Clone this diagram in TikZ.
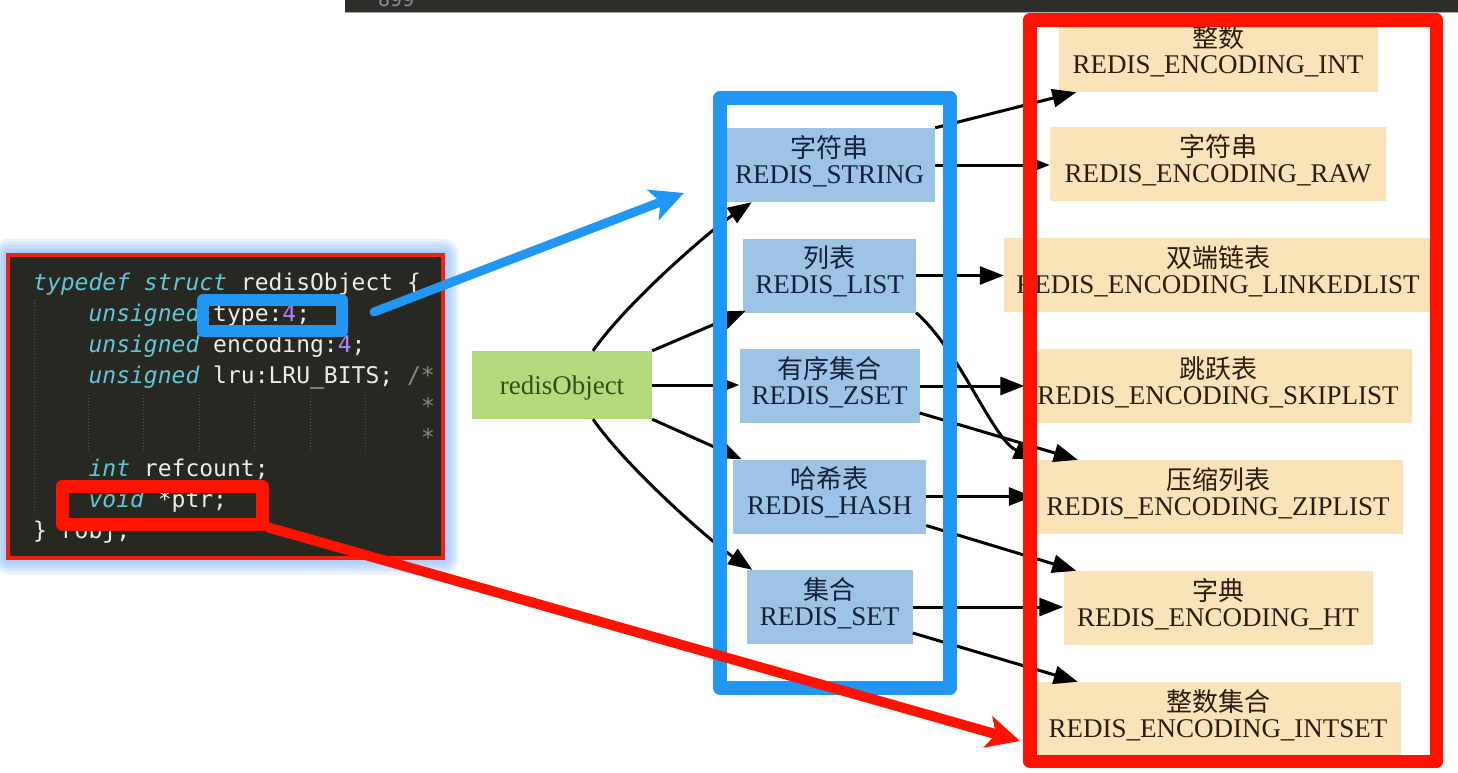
\documentclass[tikz,border=0pt]{standalone}
\usepackage{fontspec}
\setmainfont{Liberation Serif}
\newfontfamily\cjk{Noto Sans CJK SC}
\newfontfamily\codefont{DejaVu Sans Mono}
\usetikzlibrary{arrows.meta,calc}
\definecolor{codebg}{HTML}{272822}
\definecolor{kw}{HTML}{66C4D8}
\definecolor{plain}{HTML}{EDEDE6}
\definecolor{num}{HTML}{AE81FF}
\definecolor{cmt}{HTML}{8A877A}
\definecolor{guide}{HTML}{5A5A50}
\definecolor{hlblue}{HTML}{2196F3}
\definecolor{hlred}{HTML}{FF1200}
\definecolor{codered}{HTML}{E8260F}
\definecolor{glow}{HTML}{6FA8FF}
\definecolor{typebg}{HTML}{9DC3E6}
\definecolor{typefg}{HTML}{14213D}
\definecolor{encbg}{HTML}{FBE3B9}
\definecolor{encfg}{HTML}{2B1D0E}
\definecolor{objbg}{HTML}{B3DB7D}
\definecolor{objfg}{HTML}{2E5014}
\definecolor{barbg}{HTML}{2D2D29}
\newcommand\kwd[1]{{\itshape\color{kw}#1}}
\newcommand\numc[1]{{\color{num}#1}}
\newcommand\cmtc[1]{{\color{cmt}#1}}
\newcommand\mkbox[7]{%
  \node[#2box, minimum width=#5pt] (#1) at (#3,#4) {};
  \node[#2cjk] (#1c) at (#3,#4-8) {#6};
  \node[#2lat] (#1l) at (#3,#4+18) {#7};
}
\begin{document}
\begin{tikzpicture}[x=1pt,y=-1pt,
  typebox/.style={rectangle, fill=typebg, draw=none, inner sep=0pt, minimum height=74pt},
  typecjk/.style={inner sep=0pt, anchor=base, text=typefg, font=\cjk\fontsize{26pt}{26pt}\selectfont},
  typelat/.style={inner sep=0pt, anchor=base, text=typefg, font=\fontsize{27pt}{27pt}\selectfont},
  encbox/.style={rectangle, fill=encbg, draw=none, inner sep=0pt, minimum height=74pt},
  enccjk/.style={inner sep=0pt, anchor=base, text=encfg, font=\cjk\fontsize{26pt}{26pt}\selectfont},
  enclat/.style={inner sep=0pt, anchor=base, text=encfg, font=\fontsize{27pt}{27pt}\selectfont},
  objbox/.style={rectangle, fill=objbg, draw=none, inner sep=0pt, minimum height=68pt, minimum width=180pt},
  objlat/.style={inner sep=0pt, anchor=base, text=objfg, font=\fontsize{27pt}{27pt}\selectfont},
  edge/.style={line width=3pt, black, -{Triangle[length=24pt,width=18pt]}},
  codeline/.style={inner sep=0pt, anchor=base west, text=plain, font=\codefont\fontsize{23pt}{23pt}\selectfont},
  hlbox/.style={rectangle, inner sep=0pt, fill=none, line join=round},
  bigarrow/.style={line width=9pt, line cap=round, -{Stealth[length=33pt,width=32pt,inset=8pt]}}
]
\useasboundingbox (0,0) rectangle (1458,772);
\fill[white] (0,0) rectangle (1458,772);

% top bar of the editor
\fill[barbg] (345,0) rectangle (1458,12);
\draw[line width=0.8pt, color=black!35] (345,12.4) -- (1458,12.4);
\begin{scope}
  \clip (345,0) rectangle (1458,12);
  \node[inner sep=0pt, anchor=base west, text=black!45, font=\codefont\fontsize{20pt}{20pt}\selectfont] (lineno) at (378,6) {899};
\end{scope}

% graph nodes
\node[objbox] (obj) at (562,385) {};
\node[objlat] (objt) at (562,394) {redisObject};

\mkbox{str}{type}{829.5}{165}{211}{字符串}{REDIS\_STRING}
\mkbox{list}{type}{829.5}{275.5}{173}{列表}{REDIS\_LIST}
\mkbox{zset}{type}{829.5}{386}{180}{有序集合}{REDIS\_ZSET}
\mkbox{hash}{type}{829.5}{496.5}{193}{哈希表}{REDIS\_HASH}
\mkbox{set}{type}{829.5}{607}{166}{集合}{REDIS\_SET}

\mkbox{int}{enc}{1218}{55}{319}{整数}{REDIS\_ENCODING\_INT}
\mkbox{raw}{enc}{1218}{164}{336}{字符串}{REDIS\_ENCODING\_RAW}
\mkbox{linked}{enc}{1218}{275}{428}{双端链表}{REDIS\_ENCODING\_LINKEDLIST}
\mkbox{skip}{enc}{1218}{386}{387}{跳跃表}{REDIS\_ENCODING\_SKIPLIST}
\mkbox{zip}{enc}{1218}{497}{370}{压缩列表}{REDIS\_ENCODING\_ZIPLIST}
\mkbox{ht}{enc}{1218}{608}{309}{字典}{REDIS\_ENCODING\_HT}
\mkbox{intset}{enc}{1218}{719}{366}{整数集合}{REDIS\_ENCODING\_INTSET}

% edges from redisObject
\draw[edge] ($(obj.north)+(31,0)$) .. controls ($(obj.north)+(66,-50)$) and ($(str.south west)+(-12,27)$) .. ($(str.south west)+(28,0)$);
\draw[edge] (obj.north east) -- ($(list.south west)+(3,-2)$);
\draw[edge] (obj.east) -- (obj.east -| zset.west);
\draw[edge] (obj.south east) -- ($(hash.north west)+(9,0)$);
\draw[edge] ($(obj.south)+(31,0)$) .. controls ($(obj.south)+(66,50)$) and ($(set.north west)+(-34,-27)$) .. ($(set.north west)+(6,0)$);

% edges from types to encodings
\draw[edge] (str.north east) -- ($(int.south west)+(18,0)$);
\draw[edge] (str.east) -- (str.east -| raw.west);
\draw[edge] (list.east) -- (list.east -| linked.west);
\draw[edge] (list.south east) .. controls ($(list.south east)+(45,40)$) and ($(zip.north west)+(-40,-20)$) .. ($(zip.north west)+(5,0)$);
\draw[edge] (zset.east) -- (zset.east -| skip.west);
\draw[edge] ($(zset.east)+(0,27)$) -- ($(zip.north west)+(45,0)$);
\draw[edge] (hash.east) -- (hash.east -| zip.west);
\draw[edge] ($(hash.east)+(0,29)$) -- ($(ht.north west)+(13,0)$);
\draw[edge] (set.east) -- (set.east -| ht.west);
\draw[edge] ($(set.east)+(0,26)$) -- ($(intset.north west)+(43,0)$);

% annotation frames
\draw[hlblue, line width=14pt, line join=round] (720,98) rectangle (950,687.5);
\draw[hlred, line width=13.5pt, line join=round] (1030,20) rectangle (1436.5,761.5);

% code screenshot with glow
\foreach \d in {16,13,10,7,4}
  \fill[glow, opacity=0.15, rounded corners=\d pt] (8-\d,255-\d) rectangle (443+\d,558+\d);
\draw[codered, fill=codebg, line width=4pt] (8,255) rectangle (443,558);
\begin{scope}
  \clip (10,257) rectangle (441,556);
  \draw[guide, line width=1pt, dash pattern=on 1pt off 2pt] (34,300) -- (34,515);
  \foreach \c in {4,8,12,16,20,24}
    \draw[guide, line width=1pt, dash pattern=on 1pt off 2pt] (33+\c*13.85,395) -- (33+\c*13.85,452);
  \node[codeline] (code1) at (33,290) {\kwd{typedef struct} redisObject \{};
  \node[codeline] (code2) at (88.4,321) {\kwd{unsigned} type:\numc{4};};
  \node[codeline] (code3) at (88.4,352) {\kwd{unsigned} encoding:\numc{4};};
  \node[codeline] (code4) at (88.4,383) {\kwd{unsigned} lru:LRU\_BITS; \cmtc{/*}};
  \node[codeline] (code5) at (420.8,414) {\cmtc{*}};
  \node[codeline] (code6) at (420.8,445) {\cmtc{*}};
  \node[codeline] (code7) at (88.4,476) {\kwd{int} refcount;};
  \node[codeline] (code8) at (88.4,507) {\kwd{void} *ptr;};
  \node[codeline] (code9) at (33,538) {\} robj;};
\end{scope}

% highlight boxes
\node[hlbox, draw=hlblue, line width=12pt, minimum width=139pt, minimum height=31pt] (typehl) at (272.5,315.5) {};
\node[hlbox, draw=hlred, line width=13pt, minimum width=200pt, minimum height=38pt] (ptrhl) at (162,505) {};

% big arrows
\coordinate (btip) at (684,193);
\coordinate (rtip) at (1020,741);
\draw[hlblue, bigarrow] ($(typehl.east)+(26,-3.5)$) -- (btip);
\draw[hlred, bigarrow, line width=10pt] ($(ptrhl.south east)+(0,-3)$) -- (rtip);
\end{tikzpicture}
\end{document}
